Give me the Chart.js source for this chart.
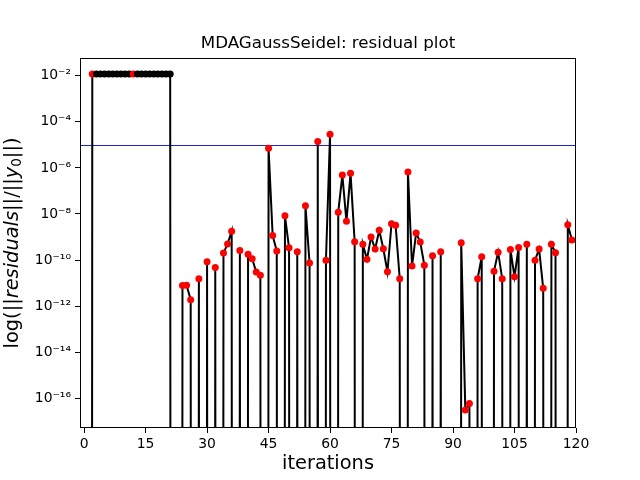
<!DOCTYPE html>
<html>
<head>
<meta charset="utf-8">
<script src="https://cdn.jsdelivr.net/npm/chart.js@4"></script>
<style>
  html, body { margin: 0; padding: 0; background: #fff; }
</style>
</head>
<body>
<canvas id="residualChart" width="640" height="480"></canvas>
<script>
// residual norm per iteration (0 = no residual recorded at that iteration)
const residuals = [
    0, 0, 1.2e-2, 1.2e-2, 1.2e-2, 1.2e-2, 1.2e-2, 1.2e-2, 1.2e-2, 1.2e-2,
    1.2e-2, 1.2e-2, 1.2e-2, 1.2e-2, 1.2e-2, 1.2e-2, 1.2e-2, 1.2e-2, 1.2e-2, 1.2e-2,
    1.2e-2, 1.2e-2, 0, 0, 7.8e-12, 8.0e-12, 1.9e-12, 0, 1.55e-11, 0,
    8.5e-11, 0, 4.7e-11, 0, 2.0e-10, 5.0e-10, 1.8e-9, 0, 2.6e-10, 0,
    1.8e-10, 1.15e-10, 3.0e-11, 2.2e-11, 0, 7.1e-6, 1.15e-9, 2.45e-10, 0, 8.3e-9,
    3.4e-10, 0, 2.3e-10, 0, 2.3e-8, 7.4e-11, 0, 1.4e-5, 0, 9.8e-11,
    2.9e-5, 0, 1.2e-8, 4.9e-7, 4.8e-9, 5.8e-7, 6.3e-10, 0, 4.8e-10, 1.07e-10,
    1.0e-9, 3.0e-10, 1.95e-9, 3.1e-10, 3.1e-11, 3.8e-9, 3.2e-9, 1.55e-11, 0, 6.6e-7,
    5.5e-11, 1.5e-9, 6.0e-10, 6.0e-11, 0, 1.55e-10, 0, 2.3e-10, 0, 0,
    0, 0, 5.6e-10, 3.1e-17, 6.0e-17, 0, 1.55e-11, 1.4e-10, 0, 0,
    3.3e-11, 2.2e-10, 1.55e-11, 0, 2.9e-10, 1.9e-11, 3.5e-10, 0, 4.8e-10, 0,
    9.8e-11, 3.0e-10, 5.9e-12, 0, 4.8e-10, 2.1e-10, 0, 0, 3.4e-9, 7.4e-10
];
const tolerance = 1e-5;
const xTicks = [0, 15, 30, 45, 60, 75, 90, 105, 120];
const yTicks = [1e-2, 1e-4, 1e-6, 1e-8, 1e-10, 1e-12, 1e-14, 1e-16];

const FONT = '"DejaVu Sans", sans-serif';
const SUP = { '-': '\u207B', '0': '\u2070', '1': '\u00B9', '2': '\u00B2', '3': '\u00B3',
              '4': '\u2074', '5': '\u2075', '6': '\u2076', '7': '\u2077', '8': '\u2078', '9': '\u2079' };

// like matplotlib's log "clip": zeros drop far below the axis so lines go straight down
const points = residuals.map((v, i) => ({ x: i, y: v > 0 ? v : 1e-300 }));

// tolerance line under the data, snapped to a pixel row
const tolerancePlugin = {
    id: 'toleranceLine',
    beforeDatasetsDraw(chart) {
        const { ctx, chartArea: a, scales } = chart;
        const y = Math.round(scales.y.getPixelForValue(tolerance)) + 0.5;
        ctx.save();
        ctx.strokeStyle = '#2222cc';
        ctx.lineWidth = 1;
        ctx.beginPath();
        ctx.moveTo(a.left, y);
        ctx.lineTo(a.right, y);
        ctx.stroke();
        ctx.restore();
    }
};

// frame, title and y label (mixed italic) drawn by hand
const decorPlugin = {
    id: 'decor',
    afterDraw(chart) {
        const { ctx, chartArea: a } = chart;
        ctx.save();
        ctx.strokeStyle = '#000';
        ctx.lineWidth = 1;
        ctx.strokeRect(a.left + 0.5, a.top + 0.5, a.right - a.left - 1, a.bottom - a.top - 1);

        ctx.fillStyle = '#000';
        ctx.textBaseline = 'middle';
        ctx.textAlign = 'center';
        ctx.font = '16.7px ' + FONT;
        ctx.fillText('MDAGaussSeidel: residual plot', (a.left + a.right) / 2, 44);

        const size = 19.4;
        const parts = [
            ['log(||', ''], ['residuals', 'italic '], ['||/||', ''],
            ['y', 'italic '], ['0', 'sub'], ['||)', '']
        ];
        const fontFor = p => p[1] === 'sub' ? (size * 0.7) + 'px ' + FONT : p[1] + size + 'px ' + FONT;
        let total = 0;
        parts.forEach(p => { ctx.font = fontFor(p); total += ctx.measureText(p[0]).width; });
        ctx.translate(13, (a.top + a.bottom) / 2);
        ctx.rotate(-Math.PI / 2);
        ctx.textAlign = 'left';
        let x = -total / 2;
        parts.forEach(p => {
            ctx.font = fontFor(p);
            ctx.fillText(p[0], x, p[1] === 'sub' ? size * 0.22 : 0);
            x += ctx.measureText(p[0]).width;
        });
        ctx.restore();
    }
};

new Chart(document.getElementById('residualChart'), {
    type: 'line',
    data: {
        datasets: [{
            data: points,
            borderColor: '#000',
            borderWidth: 2,
            tension: 0,
            pointRadius: ctx => residuals[ctx.dataIndex] > 0 ? 3.5 : 0,
            pointBorderWidth: 0,
            pointBackgroundColor: ctx => {
                const i = ctx.dataIndex;
                return (i > 2 && i < 22 && i !== 12) ? '#000' : '#ff0000';
            }
        }]
    },
    options: {
        responsive: false,
        animation: false,
        events: [],
        layout: { padding: { top: 58, right: 64, left: 0, bottom: 0 } },
        plugins: { legend: { display: false }, tooltip: { enabled: false } },
        scales: {
            x: {
                type: 'linear',
                min: -1,
                max: 120,
                afterFit: s => { s.height = 52; },
                afterBuildTicks: s => { s.ticks = xTicks.map(v => ({ value: v })); },
                border: { display: false },
                grid: { drawOnChartArea: false, color: '#000', tickLength: 5 },
                ticks: {
                    autoSkip: false, maxRotation: 0, padding: 3, color: '#000',
                    font: { family: FONT, size: 13.9 }
                },
                title: {
                    display: true, text: 'iterations', color: '#000',
                    font: { family: FONT, size: 19.4, lineHeight: 1 },
                    padding: { top: 0, bottom: 6 }
                }
            },
            y: {
                type: 'logarithmic',
                min: Math.pow(10, -17.29),
                max: Math.pow(10, -1.23),
                afterFit: s => { s.width = 80; },
                afterBuildTicks: s => { s.ticks = yTicks.map(v => ({ value: v })); },
                border: { display: false },
                grid: { drawOnChartArea: false, color: '#000', tickLength: 5 },
                ticks: {
                    autoSkip: false, padding: 4, color: '#000',
                    font: { family: FONT, size: 13.9 },
                    callback: v => '10' + String(Math.round(Math.log10(v))).split('').map(c => SUP[c]).join('')
                }
            }
        }
    },
    plugins: [tolerancePlugin, decorPlugin]
});
</script>
</body>
</html>
